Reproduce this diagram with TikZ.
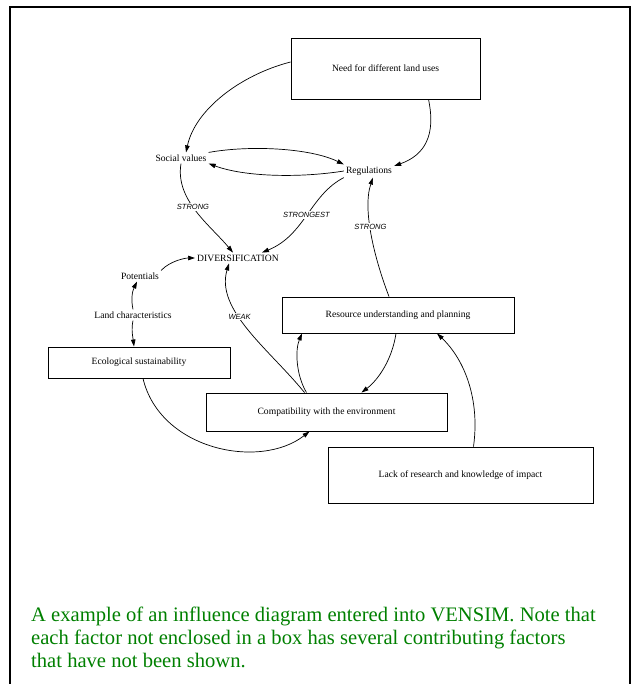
\documentclass[tikz,border=0pt]{standalone}
\usepackage{fontspec}
\setmainfont{Liberation Serif}
\newfontfamily\lblfont{Liberation Sans}
\usetikzlibrary{arrows.meta}
\definecolor{capgreen}{RGB}{0,128,0}
\begin{document}
\begin{tikzpicture}[x=1pt,y=-1pt,
  box/.style={draw, line width=0.9pt, inner sep=0pt, font=\fontsize{9.6}{11}\selectfont},
  txt/.style={font=\fontsize{9.6}{11}\selectfont, inner sep=2pt},
  lbl/.style={font=\lblfont\itshape\fontsize{7.5}{9}\selectfont, fill=white, inner sep=1pt},
  arr/.style={line width=0.7pt, -{Triangle[length=7pt,width=4.5pt]}},
  captext/.style={anchor=base west, inner sep=0pt, text=capgreen, font=\fontsize{20.6}{23}\selectfont}
]
\useasboundingbox (0,0) rectangle (642,684);
\draw[line width=1.5pt] (10,684) -- (10,7) -- (630,7) -- (630,684);

\node[box, minimum width=189pt, minimum height=61pt] (need) at (385.5,68.5) {Need for different land uses};
\node[txt] (sv) at (181,158) {Social values};
\node[txt] (reg) at (369,171) {Regulations};
\node[txt] (div) at (238,258) {DIVERSIFICATION};
\node[txt] (pot) at (140,276) {Potentials};
\node[txt] (lc) at (133,315) {Land characteristics};
\node[box, minimum width=182pt, minimum height=31pt] (eco) at (139,362.5) {Ecological sustainability};
\node[box, minimum width=232pt, minimum height=36pt] (res) at (398,315) {Resource understanding and planning};
\node[box, minimum width=241pt, minimum height=38pt] (cmp) at (326.5,412) {Compatibility with the environment};
\node[box, minimum width=265pt, minimum height=56pt] (lack) at (460.5,475) {Lack of research and knowledge of impact};

\draw[arr] ([yshift=6.5pt]need.west) .. controls (240,75) and (195,110) .. ([xshift=5pt]sv.north);
\draw[arr] ([xshift=43pt]need.south) .. controls (436,135) and (425,155) .. ([yshift=5pt]reg.east);
\draw[arr] (sv.north east) .. controls (250,145) and (310,148) .. (reg.north west);
\draw[arr] (reg.west) .. controls (300,178) and (245,177) .. (sv.south east);
\draw[arr] (sv.south) .. controls (175,200) and (210,225) .. ([xshift=-5pt]div.north) node[lbl,pos=0.45] {STRONG};
\draw[arr] (reg.south west) .. controls (310,195) and (305,235) .. ([xshift=24pt]div.north) node[lbl,pos=0.5] {STRONGEST};
\draw[arr] ([xshift=-9pt]res.north) .. controls (375,260) and (362,210) .. ([xshift=4pt]reg.south) node[lbl,pos=0.57] {STRONG};
\draw[arr] (pot.north east) .. controls (170,261) and (185,258) .. (div.west);
\draw[arr] (lc.north) .. controls (131,300) and (132,292) .. ([xshift=-3pt]pot.south);
\draw[arr] (lc.south) .. controls (131,330) and (133,338) .. ([xshift=-5pt]eco.north);
\draw[arr] ([xshift=-22pt]cmp.north) .. controls (270,350) and (215,310) .. ([xshift=-9pt]div.south) node[lbl,pos=0.6] {WEAK};
\draw[arr] ([xshift=-20pt]cmp.north) .. controls (296,375) and (295,350) .. ([xshift=-96pt]res.south);
\draw[arr] ([xshift=-2pt]res.south) .. controls (392,360) and (378,380) .. ([xshift=35pt]cmp.north);
\draw[arr] ([xshift=4pt]eco.south) .. controls (160,450) and (260,470) .. ([xshift=-17pt]cmp.south);
\draw[arr] ([xshift=13pt]lack.north) .. controls (480,400) and (465,360) .. ([xshift=39pt]res.south);

\node[captext] (cap1) at (31,621) {A example of an influence diagram entered into VENSIM. Note that};
\node[captext] (cap2) at (31,644) {each factor not enclosed in a box has several contributing factors};
\node[captext] (cap3) at (31,667) {that have not been shown.};
\end{tikzpicture}
\end{document}
